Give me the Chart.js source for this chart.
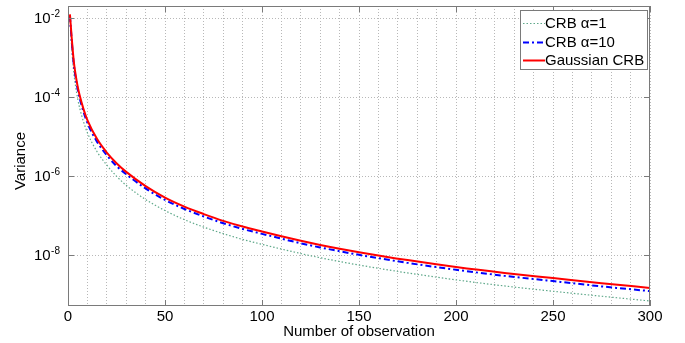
<!DOCTYPE html>
<html>
<head>
<meta charset="utf-8">
<script src="https://cdn.jsdelivr.net/npm/chart.js@4"></script>
<style>
html, body { margin: 0; padding: 0; background: #fff; }
</style>
</head>
<body>
<canvas id="crbChart" width="685" height="343"></canvas>
<script>
// Valores (escala log)
const observations = [1, 2, 3, 4, 5, 6, 8, 10, 15, 20, 25, 30, 40, 50, 60, 70, 80, 90, 100, 110, 120, 130, 140, 150, 175, 200, 225, 250, 275, 300];
const crbAlpha1 = [1.0e-2, 1.58e-3, 4.17e-4, 1.78e-4, 9.12e-5, 5.37e-5, 2.4e-5, 1.26e-5, 4.17e-6, 1.91e-6, 1.0e-6, 5.89e-7, 2.57e-7, 1.35e-7, 7.94e-8, 5.13e-8, 3.51e-8, 2.51e-8, 1.88e-8, 1.43e-8, 1.1e-8, 8.61e-9, 6.92e-9, 5.62e-9, 3.55e-9, 2.37e-9, 1.66e-9, 1.22e-9, 9.12e-10, 6.92e-10];
const crbAlpha10 = [1.15e-2, 2.4e-3, 6.76e-4, 3.02e-4, 1.58e-4, 9.55e-5, 4.27e-5, 2.24e-5, 7.41e-6, 3.39e-6, 1.82e-6, 1.12e-6, 4.9e-7, 2.51e-7, 1.48e-7, 9.55e-8, 6.46e-8, 4.62e-8, 3.47e-8, 2.63e-8, 2.0e-8, 1.57e-8, 1.26e-8, 1.02e-8, 6.38e-9, 4.27e-9, 2.99e-9, 2.21e-9, 1.62e-9, 1.23e-9];
const gaussianCrb = [1.26e-2, 2.82e-3, 7.94e-4, 3.55e-4, 1.86e-4, 1.12e-4, 5.01e-5, 2.63e-5, 8.71e-6, 3.98e-6, 2.14e-6, 1.29e-6, 5.62e-7, 2.88e-7, 1.7e-7, 1.1e-7, 7.41e-8, 5.31e-8, 3.98e-8, 3.02e-8, 2.32e-8, 1.82e-8, 1.46e-8, 1.19e-8, 7.5e-9, 5.01e-9, 3.55e-9, 2.63e-9, 1.95e-9, 1.48e-9];
const seriesNames = ['CRB \u03B1=1', 'CRB \u03B1=10', 'Gaussian CRB'];
const xTicks = [0, 50, 100, 150, 200, 250, 300];
const yTicks = [1e-8, 1e-6, 1e-4, 1e-2];
const yTickExps = ['-8', '-6', '-4', '-2'];

const FONT = "'Liberation Sans', Arial, sans-serif";
const AXIS_COLOR = '#7a7a7a';

function toPoints(ys) {
    return observations.map((x, i) => ({ x: x, y: ys[i] }));
}

// Moldura, ticks internos, rótulos do eixo y e legenda
const matlabFrame = {
    id: 'matlabFrame',
    afterDraw(chart) {
        const ctx = chart.ctx;
        const a = chart.chartArea;
        const xs = chart.scales.x;
        const ys = chart.scales.y;
        ctx.save();

        // caixa
        ctx.strokeStyle = AXIS_COLOR;
        ctx.lineWidth = 1;
        ctx.strokeRect(a.left + 0.5, a.top + 0.5, a.right - a.left - 1, a.bottom - a.top - 1);

        // ticks internos
        ctx.beginPath();
        xTicks.forEach(v => {
            const px = Math.round(xs.getPixelForValue(v)) + 0.5;
            ctx.moveTo(px, a.bottom); ctx.lineTo(px, a.bottom - 6);
            ctx.moveTo(px, a.top); ctx.lineTo(px, a.top + 6);
        });
        yTicks.forEach(v => {
            const py = Math.round(ys.getPixelForValue(v)) + 0.5;
            ctx.moveTo(a.left, py); ctx.lineTo(a.left + 6, py);
            ctx.moveTo(a.right, py); ctx.lineTo(a.right - 6, py);
        });
        ctx.stroke();

        // rótulos 10^n
        ctx.fillStyle = '#000';
        yTicks.forEach((v, i) => {
            const py = ys.getPixelForValue(v);
            ctx.font = '10px ' + FONT;
            ctx.textAlign = 'right';
            ctx.textBaseline = 'alphabetic';
            const supW = ctx.measureText(yTickExps[i]).width;
            ctx.fillText(yTickExps[i], 60, py - 1.5);
            ctx.font = '15px ' + FONT;
            ctx.textBaseline = 'middle';
            ctx.fillText('10', 60 - supW - 0.5, py + 0.5);
        });

        // título y
        ctx.save();
        ctx.translate(21, 161);
        ctx.rotate(-Math.PI / 2);
        ctx.font = '15px ' + FONT;
        ctx.textAlign = 'center';
        ctx.textBaseline = 'middle';
        ctx.fillText('Variance', 0, 0);
        ctx.restore();

        // legenda
        const lx = 520, ly = 10, lw = 127, lh = 59;
        ctx.fillStyle = '#fff';
        ctx.fillRect(lx, ly, lw, lh);
        ctx.strokeStyle = AXIS_COLOR;
        ctx.strokeRect(lx + 0.5, ly + 0.5, lw, lh);
        const rows = [23, 42, 60];
        chart.data.datasets.forEach((ds, i) => {
            const y = rows[i] + 0.5;
            ctx.strokeStyle = ds.borderColor;
            ctx.lineWidth = ds.borderWidth;
            ctx.setLineDash(ds.borderDash || []);
            ctx.beginPath();
            ctx.moveTo(523, y);
            ctx.lineTo(545, y);
            ctx.stroke();
            ctx.setLineDash([]);
            ctx.fillStyle = '#000';
            ctx.font = '15px ' + FONT;
            ctx.textAlign = 'left';
            ctx.textBaseline = 'middle';
            ctx.fillText(ds.label, 545, rows[i] + 1);
        });
        ctx.restore();
    }
};

new Chart(document.getElementById('crbChart').getContext('2d'), {
    type: 'line',
    data: {
        datasets: [
            {
                label: seriesNames[0],
                data: toPoints(crbAlpha1),
                borderColor: '#5fa88a',
                borderWidth: 1.2,
                borderDash: [1.5, 2],
                order: 3
            },
            {
                label: seriesNames[1],
                data: toPoints(crbAlpha10),
                borderColor: '#0000ff',
                borderWidth: 2,
                borderDash: [6, 3, 2, 3],
                order: 2
            },
            {
                label: seriesNames[2],
                data: toPoints(gaussianCrb),
                borderColor: '#ff0000',
                borderWidth: 2,
                order: 1
            }
        ]
    },
    options: {
        responsive: false,
        animation: false,
        layout: { padding: { top: 6, right: 35, left: 0, bottom: 0 } },
        elements: {
            point: { radius: 0 },
            line: { cubicInterpolationMode: 'monotone', fill: false }
        },
        plugins: {
            legend: { display: false },
            tooltip: { enabled: false }
        },
        scales: {
            x: {
                type: 'linear',
                min: 0,
                max: 300,
                afterFit(s) { s.height = 37; },
                ticks: {
                    stepSize: 10,
                    autoSkip: false,
                    maxRotation: 0,
                    padding: 2,
                    color: '#000',
                    font: { family: FONT, size: 15 },
                    callback: v => (xTicks.includes(v) ? String(v) : '')
                },
                grid: { color: '#b8b8b8', lineWidth: 1, drawTicks: false },
                border: { display: false, dash: [1, 2] },
                title: {
                    display: true,
                    text: 'Number of observation',
                    color: '#000',
                    font: { family: FONT, size: 15 },
                    padding: { top: 0, bottom: 2 }
                }
            },
            y: {
                type: 'logarithmic',
                min: 5.16e-10,
                max: 2.05e-2,
                afterFit(s) { s.width = 68; },
                afterBuildTicks(s) { s.ticks = yTicks.map(v => ({ value: v })); },
                ticks: { display: false },
                grid: { color: '#b8b8b8', lineWidth: 1, drawTicks: false },
                border: { display: false, dash: [1, 2] }
            }
        }
    },
    plugins: [matlabFrame]
});
</script>
</body>
</html>
